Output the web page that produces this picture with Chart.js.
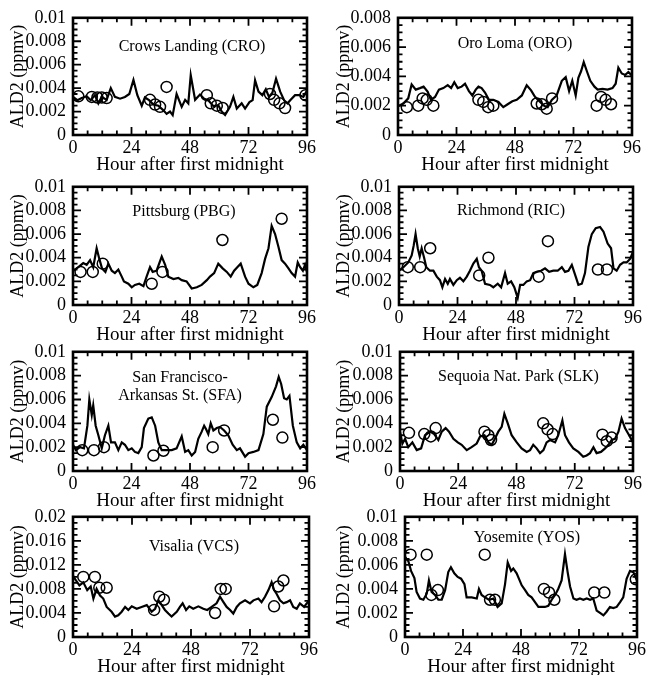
<!DOCTYPE html>
<html><head><meta charset="utf-8">
<script src="https://cdn.jsdelivr.net/npm/chart.js@4/dist/chart.umd.min.js"></script>
<style>
html,body{margin:0;padding:0;background:#fff;}
body{width:647px;height:675px;position:relative;overflow:hidden;}
canvas{position:absolute;}
</style>
</head><body>
<script>
// ===== DATA (values in ppbv = 0.001 ppmv; converted to ppmv when plotted) =====
const xTickHours = [0, 24, 48, 72, 96];

const croHours = [0,1.8,3.6,5.6,7.3,9.0,10.4,11.8,13.8,15.5,17.2,19.3,21.3,23.1,24.8,26.4,28.2,29.5,31.2,33.0,35.0,37.1,38.4,39.8,40.9,42.5,44.6,46.0,47.3,48.3,50.1,52.1,53.8,55.5,57.6,59.6,61.0,62.4,64.4,65.8,67.2,69.2,70.6,72.4,73.7,74.7,76.1,77.7,79.1,80.4,81.8,83.3,85.0,86.6,88.0,89.3,91.1,92.9,94.5,96];
const croModel = [3.25,2.97,3.16,3.3,2.97,3.4,2.7,3.25,3.0,4.0,3.25,3.1,3.25,3.5,4.7,3.4,2.5,3.2,2.97,2.6,2.5,2.1,1.8,2.0,1.7,3.5,2.4,3.0,2.7,5.1,3.0,3.45,3.1,2.97,2.46,2.54,2.0,1.7,2.4,3.25,2.26,2.7,2.26,2.8,2.97,4.66,3.7,3.4,3.9,3.25,3.6,4.8,3.7,2.97,2.7,3.0,3.4,3.4,3.25,3.8];
const croObsHours = [2.2,7.7,10.0,11.8,13.8,31.6,33.7,35.7,38.4,54.9,56.5,59.0,61.4,80.8,82.5,84.7,87.0,95.4];
const croObs = [3.3,3.25,3.2,3.2,3.15,3.0,2.6,2.4,4.1,3.4,2.7,2.5,2.3,3.5,3.0,2.7,2.3,3.4];

const oroHours = [0,2.2,4.2,5.6,7.3,9.0,10.5,12.2,13.5,15.2,16.8,18.6,20.4,21.8,23.1,24.5,26.1,27.5,29.1,30.5,31.9,33.0,34.3,35.7,37.3,39.1,41.2,43.2,45.0,46.9,48.7,50.8,52.8,54.6,56.2,58.3,60.1,61.4,63.1,65.1,67.2,68.8,70.2,71.5,72.9,74.0,75.1,76.2,77.6,78.9,80.6,81.9,83.9,86.0,88.0,89.3,90.4,91.8,93.2,94.5,96];
const oroModel = [1.97,2.15,2.5,3.45,3.1,3.2,3.3,2.95,2.4,2.6,3.1,3.2,3.4,3.2,3.6,3.2,3.3,3.5,3.0,2.7,3.1,3.3,3.2,2.9,2.4,2.4,2.26,1.9,2.1,2.3,2.4,2.7,3.4,3.05,2.6,2.26,1.97,1.9,2.4,2.7,3.7,3.95,3.0,3.7,2.7,3.9,4.35,4.97,4.3,3.7,3.3,3.1,3.15,3.1,3.2,3.5,4.6,4.2,4.1,4.3,4.05];
const oroObsHours = [3.6,8.3,10.1,11.8,14.5,33.0,35.0,37.0,39.1,56.9,59.0,61.0,63.2,81.5,83.3,85.2,87.4];
const oroObs = [1.9,2.0,2.5,2.4,2.0,2.4,2.26,1.9,2.0,2.15,2.1,1.8,2.5,2.0,2.6,2.4,2.1];

const pbgHours = [0,2.2,4.2,5.6,7.0,8.3,9.7,10.8,11.9,13.3,14.5,15.9,17.2,18.6,20.0,20.9,22.7,24.1,25.4,27.2,28.9,30.2,31.6,32.7,34.3,36.4,37.8,39.1,41.2,43.2,44.6,46.6,48.7,50.8,52.8,54.9,56.2,57.9,59.6,61.4,63.1,64.7,66.1,67.4,68.8,70.6,72.0,74.0,75.6,77.4,78.8,80.2,81.5,82.9,84.3,85.6,87.0,88.4,89.7,91.1,92.2,93.2,94.3,95.2,96];
const pbgModel = [2.9,3.2,3.55,3.4,3.8,3.2,4.8,3.9,3.1,2.8,3.5,2.9,2.7,3.0,2.4,2.0,1.8,1.5,1.7,1.8,1.6,2.4,3.2,2.8,2.9,4.1,3.4,2.4,2.2,2.3,2.1,2.0,1.4,1.5,1.7,2.1,2.4,2.7,3.5,3.1,2.8,2.4,2.9,3.2,3.5,2.4,1.8,1.5,1.7,2.7,3.9,4.8,6.7,6.0,4.9,3.8,3.5,3.1,2.7,2.4,3.6,3.2,2.9,3.4,2.8];
const pbgObsHours = [3.1,8.1,12.2,32.3,36.7,61.3,85.6];
const pbgObs = [2.8,2.8,3.5,1.8,2.8,5.5,7.3];

const ricHours = [0,1.8,3.8,5.2,6.0,6.8,7.7,8.5,9.3,10.3,11.2,12.7,14.1,15.5,16.8,17.8,18.9,20.0,20.9,22.3,23.7,25.0,26.4,27.8,29.1,30.5,31.9,32.8,33.9,35.3,37.3,38.7,40.5,41.9,43.5,44.6,46.0,47.3,48.7,49.7,51.0,52.4,53.8,55.1,56.5,58.3,59.9,61.6,63.3,65.1,66.8,68.1,69.5,70.9,72.5,73.6,75.0,76.3,77.7,79.1,80.7,82.5,83.9,85.6,87.0,88.0,89.3,90.7,92.1,93.4,94.8,96];
const ricModel = [2.9,3.2,3.6,4.2,5.0,6.0,4.8,4.1,4.8,4.0,3.2,2.9,2.9,2.4,2.1,1.5,2.2,1.8,2.2,1.7,2.1,2.3,2.0,2.4,2.9,3.5,3.9,3.2,2.9,1.8,1.7,1.5,1.8,1.5,2.7,1.8,2.0,1.5,0.6,1.7,1.7,2.0,2.1,2.7,2.8,2.9,3.1,2.8,2.9,2.9,3.2,2.8,2.9,3.4,2.4,1.7,1.8,2.7,4.9,6.0,6.5,6.6,6.2,5.2,4.8,3.1,2.9,3.4,3.6,3.6,3.9,4.5];
const ricObsHours = [3.6,8.7,12.8,32.9,36.7,57.3,61.1,81.6,85.3];
const ricObs = [3.2,3.2,4.8,2.5,4.0,2.4,5.4,3.0,3.0];

const sfaHours = [0,1.2,2.9,4.5,5.9,6.7,7.7,8.3,9.3,10.4,11.8,13.1,14.5,15.6,17.2,18.6,20.0,21.3,22.7,24.1,25.4,26.8,28.2,29.1,30.9,32.3,33.7,35.0,36.4,38.4,40.5,42.5,44.6,46.0,47.3,48.7,50.1,51.4,52.8,53.8,54.6,55.5,56.5,57.6,59.0,60.3,62.0,63.7,65.5,67.2,68.5,70.6,72.0,74.0,76.1,78.1,79.5,81.5,83.3,84.4,85.4,86.6,87.7,88.8,90.2,91.8,93.2,94.5,96];
const sfaModel = [2.2,1.75,2.0,1.9,3.8,6.0,4.7,5.5,3.8,3.0,1.9,3.0,3.8,2.4,2.4,1.75,2.4,2.2,1.75,1.9,1.6,1.5,2.0,3.6,4.4,4.5,3.8,2.4,1.75,1.75,1.75,1.9,2.9,1.6,1.75,1.3,1.6,2.7,3.3,3.8,3.5,3.1,4.0,3.4,3.6,3.7,3.4,3.0,2.2,1.75,1.9,1.2,1.5,1.6,1.75,3.1,5.4,6.2,7.1,7.9,7.3,6.1,6.0,6.3,3.8,2.4,1.9,2.2,1.75];
const sfaObsHours = [3.8,8.6,12.7,33.0,37.1,57.3,62.0,82.0,85.9];
const sfaObs = [1.75,1.75,2.0,1.3,1.7,2.0,3.4,4.3,2.8];

const slkHours = [0,1.0,2.1,3.4,5.1,6.9,8.7,10.3,12.4,14.1,15.8,17.2,18.8,20.2,22.0,23.8,25.4,27.5,29.5,31.6,33.0,34.8,36.4,37.8,39.1,40.5,41.9,43.0,44.4,46.0,48.1,50.1,52.2,53.6,54.9,56.3,57.7,59.1,60.4,61.8,63.9,65.2,66.9,68.0,69.6,71.4,73.5,75.5,76.9,78.3,79.7,81.0,82.8,84.5,85.9,87.2,88.6,90.0,91.3,92.7,94.4,96];
const slkModel = [3.3,2.3,2.7,2.0,2.4,1.75,1.9,3.0,3.3,3.1,2.6,3.3,3.6,3.3,2.7,2.4,2.2,1.75,2.0,2.3,2.9,3.0,2.4,2.2,2.7,3.3,3.7,4.8,4.0,3.0,2.4,1.9,1.6,1.75,2.2,1.9,1.5,1.75,2.4,2.6,2.4,3.0,4.25,3.0,2.4,1.9,1.6,1.2,1.3,1.5,2.0,1.5,1.6,1.9,2.2,2.6,2.7,3.3,4.4,3.6,3.0,2.4];
const slkObsHours = [3.7,10.0,12.7,14.7,34.8,36.4,37.5,59.0,60.8,62.9,83.4,85.2,87.2];
const slkObs = [3.2,3.1,2.9,3.6,3.3,3.0,2.6,4.0,3.5,3.1,3.05,2.5,2.8];

const vcsHours = [0,1.2,2.6,4.2,5.8,7.2,8.3,9.6,11.0,12.3,13.7,15.7,17.1,18.4,19.8,21.2,22.5,23.9,25.9,27.9,30.0,32.0,33.4,34.7,36.1,37.4,38.8,40.1,42.2,43.5,44.6,46.0,47.3,48.9,51.0,53.0,54.6,56.4,58.4,59.8,61.2,62.5,63.9,65.2,66.6,67.9,70.0,72.0,73.4,75.4,76.7,78.1,79.5,80.8,81.8,82.8,84.2,85.6,86.9,88.3,89.6,91.0,92.3,94.0,96];
const vcsModel = [10.2,9.4,8.6,9.1,7.8,8.4,6.4,8.0,6.9,6.4,5.0,4.2,3.4,3.6,4.2,5.0,4.5,5.1,4.7,5.0,5.3,4.2,4.7,6.1,5.3,4.5,3.9,3.4,4.2,5.0,5.6,4.5,5.1,4.7,5.1,4.7,4.5,5.0,5.6,6.7,5.8,5.0,4.5,3.9,5.0,5.6,6.1,5.6,6.1,6.4,5.8,6.7,7.8,9.1,7.8,7.2,6.1,5.6,5.8,6.1,5.0,4.7,5.6,5.0,6.1];
const vcsObsHours = [4.2,8.9,10.7,13.7,33.0,35.1,37.0,57.8,60.1,62.1,81.8,83.5,85.6];
const vcsObs = [10.0,10.0,8.2,8.2,4.5,6.7,6.2,4.0,8.0,8.0,5.1,8.4,9.4];

const yosHours = [0,1.4,2.5,3.9,4.8,6.2,7.6,9.0,9.9,11.0,12.4,13.8,15.2,16.6,17.9,19.0,20.4,21.8,23.2,24.6,25.5,27.6,29.7,30.6,31.7,33.1,34.8,36.6,38.3,40.0,41.4,42.5,43.9,44.8,46.2,48.3,49.7,51.0,52.4,53.8,55.2,56.6,57.9,59.3,60.7,62.1,63.4,64.8,66.2,67.3,68.3,69.7,71.0,72.4,73.8,75.2,76.6,77.9,79.3,80.7,82.1,83.4,84.8,86.2,87.6,89.0,90.3,91.7,93.1,94.5,96];
const yosModel = [6.6,6.3,5.5,4.9,3.75,3.2,3.1,3.6,4.7,3.75,3.5,3.1,3.1,3.9,5.4,5.8,5.3,5.0,4.85,4.4,3.3,3.3,3.2,4.0,3.5,3.3,3.1,3.2,2.5,2.8,4.4,6.2,5.5,5.7,5.3,4.3,3.9,3.5,3.3,2.9,2.5,2.5,2.5,2.6,3.1,3.5,4.0,4.7,6.9,5.4,4.2,3.2,3.1,3.2,3.1,3.2,3.1,3.2,2.2,2.0,1.8,2.1,2.5,2.4,2.5,2.9,3.3,4.85,5.5,5.4,4.7];
const yosObsHours = [2.3,9.0,10.9,13.6,33.0,35.2,37.2,57.5,59.6,61.8,78.3,82.5,95.5];
const yosObs = [6.85,6.85,3.5,3.9,6.85,3.1,3.1,4.0,3.7,3.1,3.7,3.7,4.8];

// ===== PANELS (layout / styling) =====
const panels = [
  {name:['Crows Landing (CRO)'], hours:croHours, model:croModel, obsH:croObsHours, obs:croObs, yMax:0.01, yStep:0.002, yMinor:0.0005, box:{l:73,r:307,t:17,b:135}, cl:0, lab:{dx:2,dy:29}},
  {name:['Oro Loma (ORO)'], hours:oroHours, model:oroModel, obsH:oroObsHours, obs:oroObs, yMax:0.008, yStep:0.002, yMinor:0.0005, box:{l:398,r:632,t:17,b:135}, cl:326, lab:{dx:0,dy:26}},
  {name:['Pittsburg (PBG)'], hours:pbgHours, model:pbgModel, obsH:pbgObsHours, obs:pbgObs, yMax:0.01, yStep:0.002, yMinor:0.0005, box:{l:73,r:307,t:186,b:305}, cl:0, lab:{dx:-6,dy:25}},
  {name:['Richmond (RIC)'], hours:ricHours, model:ricModel, obsH:ricObsHours, obs:ricObs, yMax:0.01, yStep:0.002, yMinor:0.0005, box:{l:399,r:633,t:186,b:305}, cl:326, lab:{dx:-5,dy:24}},
  {name:['San Francisco-','Arkansas St. (SFA)'], hours:sfaHours, model:sfaModel, obsH:sfaObsHours, obs:sfaObs, yMax:0.01, yStep:0.002, yMinor:0.0005, box:{l:73,r:307,t:351,b:471}, cl:0, lab:{dx:-10,dy:26}},
  {name:['Sequoia Nat. Park (SLK)'], hours:slkHours, model:slkModel, obsH:slkObsHours, obs:slkObs, yMax:0.01, yStep:0.002, yMinor:0.0005, box:{l:400,r:633,t:351,b:471}, cl:326, lab:{dx:2,dy:25}},
  {name:['Visalia (VCS)'], hours:vcsHours, model:vcsModel, obsH:vcsObsHours, obs:vcsObs, yMax:0.02, yStep:0.004, yMinor:0.001, box:{l:73,r:309,t:516,b:637}, cl:0, lab:{dx:3,dy:30}},
  {name:['Yosemite (YOS)'], hours:yosHours, model:yosModel, obsH:yosObsHours, obs:yosObs, yMax:0.01, yStep:0.002, yMinor:0.0005, box:{l:405,r:637,t:516,b:637}, cl:326, lab:{dx:6,dy:21}}
];

const FONT = '"Liberation Serif", "Times New Roman", Times, serif';
const fmt = v => v === 0 ? '0' : String(Number(v.toFixed(4)));

function framePlugin(p) {
  return {
    id: 'frame',
    afterDatasetsDraw(chart) {
      const {ctx, chartArea: a, scales: {x, y}} = chart;
      ctx.save();
      ctx.strokeStyle = '#000';
      ctx.lineWidth = 1.8;
      ctx.beginPath();
      for (let h = 6; h < 96; h += 6) {
        const px = x.getPixelForValue(h);
        const L = (h % 24 === 0) ? 8 : 4.5;
        ctx.moveTo(px, a.bottom); ctx.lineTo(px, a.bottom - L);
        ctx.moveTo(px, a.top); ctx.lineTo(px, a.top + L);
      }
      const n = Math.round(p.yMax / p.yMinor);
      for (let k = 1; k < n; k++) {
        const v = k * p.yMinor;
        const py = y.getPixelForValue(v);
        const r = v / p.yStep;
        const L = Math.abs(r - Math.round(r)) < 1e-6 ? 8 : 4.5;
        ctx.moveTo(a.left, py); ctx.lineTo(a.left + L, py);
        ctx.moveTo(a.right, py); ctx.lineTo(a.right - L, py);
      }
      ctx.stroke();
      ctx.lineWidth = 2.6;
      ctx.strokeRect(a.left, a.top, a.right - a.left, a.bottom - a.top);
      ctx.fillStyle = '#000';
      ctx.font = '16px ' + FONT;
      ctx.textAlign = 'center';
      ctx.textBaseline = 'middle';
      const cx = (a.left + a.right) / 2 + p.lab.dx;
      p.name.forEach((t, i) => ctx.fillText(t, cx, a.top + p.lab.dy + i * 18));
      ctx.restore();
    }
  };
}

panels.forEach(p => {
  const ct = p.box.t - 17;
  const W = p.box.r - p.cl + 30;
  const H = (p.box.b - p.box.t) + 17 + 41;
  const cv = document.createElement('canvas');
  cv.width = W; cv.height = H;
  cv.style.left = p.cl + 'px'; cv.style.top = ct + 'px';
  cv.style.width = W + 'px'; cv.style.height = H + 'px';
  document.body.appendChild(cv);
  new Chart(cv, {
    type: 'scatter',
    data: {
      datasets: [
        {type: 'line', label: 'model', data: p.hours.map((h, k) => ({x: h, y: p.model[k] / 1000})),
         borderColor: '#000', borderWidth: 2.2, pointRadius: 0, tension: 0, fill: false, order: 2},
        {type: 'scatter', label: 'obs', data: p.obsH.map((h, k) => ({x: h, y: p.obs[k] / 1000})),
         pointStyle: 'circle', pointRadius: 5.5, borderColor: '#000', borderWidth: 1.5,
         backgroundColor: 'rgba(0,0,0,0)', order: 1}
      ]
    },
    options: {
      responsive: false, animation: false, devicePixelRatio: 1,
      layout: {padding: {top: 17, right: W - (p.box.r - p.cl), left: 0, bottom: 0}},
      plugins: {legend: {display: false}, tooltip: {enabled: false}},
      scales: {
        x: {
          type: 'linear', min: 0, max: 96, position: 'bottom',
          grid: {display: false, drawTicks: false}, border: {display: false},
          afterBuildTicks: s => { s.ticks = xTickHours.map(v => ({value: v})); },
          ticks: {padding: 2, autoSkip: false, maxRotation: 0, color: '#000', font: {family: FONT, size: 18}},
          title: {display: true, text: 'Hour after first midnight', color: '#000', font: {family: FONT, size: 19}, padding: {top: 0, bottom: 0}},
          afterFit: s => { s.height = 41; }
        },
        y: {
          type: 'linear', min: 0, max: p.yMax, position: 'left',
          grid: {display: false, drawTicks: false}, border: {display: false},
          ticks: {stepSize: p.yStep, padding: 7, autoSkip: false, color: '#000', font: {family: FONT, size: 18}, callback: v => fmt(v)},
          title: {display: true, text: 'ALD2 (ppmv)', color: '#000', font: {family: FONT, size: 18}, padding: {top: 7, bottom: 0}},
          afterFit: s => { s.width = p.box.l - p.cl; }
        }
      }
    },
    plugins: [framePlugin(p)]
  });
});
</script>
</body></html>
